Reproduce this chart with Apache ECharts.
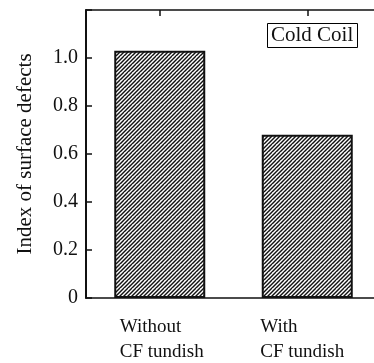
<!DOCTYPE html>
<html>
<head>
<meta charset="utf-8">
<script src="https://cdn.jsdelivr.net/npm/echarts@6/dist/echarts.min.js"></script>
<style>
  html, body { margin: 0; padding: 0; background: #fff; }
  #chart { width: 374px; height: 363px; }
</style>
</head>
<body>
<div id="chart"></div>
<script>
// Surface defect index on cold coil, with and without the CF tundish
const categories = ['Without\nCF tundish', 'With\nCF tundish'];
const defectIndex = [1.03, 0.68];
const yTicks = [0, 0.2, 0.4, 0.6, 0.8, 1.0];

const FONT = '"Liberation Serif", "DejaVu Serif", serif';

// repeating tile of "/" hatch lines (x + y = k) used to fill the bars
function hatchTile() {
  const n = 8;
  const c = document.createElement('canvas');
  c.width = n; c.height = n;
  const g = c.getContext('2d');
  g.fillStyle = '#fff';
  g.fillRect(0, 0, n, n);
  g.strokeStyle = '#111';
  g.lineWidth = 1.45;
  for (let k = -4; k <= 2 * n + 4; k += 4) {
    g.beginPath();
    g.moveTo(k, 0);
    g.lineTo(k - n - 4, n + 4);
    g.stroke();
  }
  return c;
}

const labelText = { fontFamily: FONT, fontSize: 19, color: '#111', lineHeight: 25, align: 'left' };

const chart = echarts.init(document.getElementById('chart'), null, { renderer: 'canvas' });

chart.setOption({
  animation: false,
  backgroundColor: '#fff',
  title: {
    text: 'Cold Coil',
    left: 267,
    top: 23,
    padding: [2, 4, 2, 4],
    borderColor: '#000',
    borderWidth: 1,
    backgroundColor: '#fff',
    textStyle: { fontFamily: FONT, fontSize: 21, fontWeight: 'normal', color: '#111' }
  },
  grid: { left: 86, top: 10, width: 295, height: 288, containLabel: false, outerBoundsMode: 'none' },
  xAxis: [
    {
      type: 'category',
      data: categories,
      position: 'bottom',
      axisLine: { show: true, lineStyle: { color: '#111', width: 1.5 } },
      axisTick: { show: false },
      axisLabel: {
        interval: 0,
        margin: 17,
        lineHeight: 25,
        fontFamily: FONT,
        fontSize: 19,
        color: '#111',
        formatter: (v, i) => v.split('\n').map(s => '{' + (i === 0 ? 'b' : 'a') + '|' + s + '}').join('\n'),
        rich: {
          a: Object.assign({ width: 94 }, labelText),
          b: Object.assign({ width: 94, padding: [0, 0, 0, 14] }, labelText)
        }
      },
      splitLine: { show: false }
    },
    {
      type: 'category',
      data: categories,
      position: 'top',
      axisLine: { show: true, lineStyle: { color: '#111', width: 1.5 } },
      axisTick: { show: true, inside: true, length: 6, alignWithLabel: true, lineStyle: { color: '#111', width: 1.5 } },
      axisLabel: { show: false },
      splitLine: { show: false }
    }
  ],
  yAxis: {
    type: 'value',
    min: 0,
    max: 1.2,
    interval: 0.2,
    name: 'Index of surface defects',
    nameLocation: 'middle',
    nameGap: 50,
    nameRotate: 90,
    nameTextStyle: { fontFamily: FONT, fontSize: 21, color: '#111' },
    axisLine: { show: true, lineStyle: { color: '#111', width: 2 } },
    axisTick: { show: true, inside: true, length: 6, lineStyle: { color: '#111', width: 1.5 } },
    axisLabel: {
      margin: 8,
      fontFamily: FONT,
      fontSize: 20,
      color: '#111',
      formatter: v => {
        const hit = yTicks.find(t => Math.abs(t - v) < 1e-9);
        if (hit === undefined) return '';
        return hit === 0 ? '0' : hit.toFixed(1);
      }
    },
    splitLine: { show: false }
  },
  series: [{
    type: 'bar',
    data: defectIndex,
    barWidth: 91,
    itemStyle: {
      color: { image: hatchTile(), repeat: 'repeat' },
      borderColor: '#111',
      borderWidth: 2
    }
  }]
});
</script>
</body>
</html>
